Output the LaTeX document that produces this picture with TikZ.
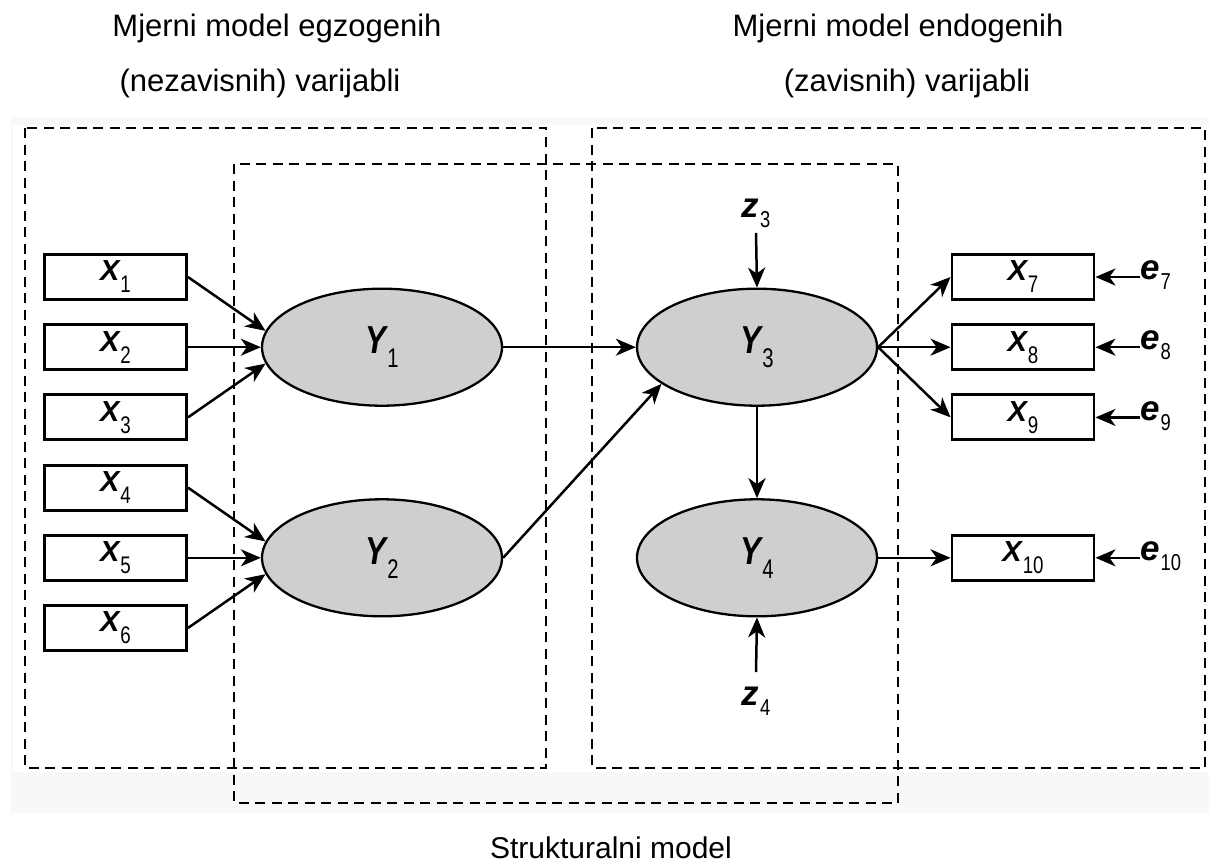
\documentclass[tikz,border=0pt]{standalone}
\usepackage{fontspec}
\setmainfont{Liberation Sans}
\usepackage{graphicx}
\usetikzlibrary{arrows.meta,calc,shapes.geometric}
\definecolor{bggray}{RGB}{248,248,248}
\definecolor{latfill}{RGB}{207,207,209}
\newcommand\labX[1]{{\fontsize{29}{30}\selectfont\bfseries\itshape X}\kern1pt\raisebox{-12pt}{\fontsize{24}{26}\selectfont\mdseries\upshape\scalebox{0.78}[1]{#1}}}
\newcommand\labY[1]{\scalebox{0.8}[1]{\fontsize{39}{40}\selectfont\bfseries\itshape Y}\kern1pt\raisebox{-14pt}{\fontsize{27}{28}\selectfont\mdseries\upshape\scalebox{0.75}[1]{#1}}}
\newcommand\labE[2]{#1\kern1pt\raisebox{-10pt}{\fontsize{23}{24}\selectfont\mdseries\upshape\scalebox{0.8}[1]{#2}}}
\begin{document}
\begin{tikzpicture}[x=1pt,y=-1pt,
  box/.style={draw, line width=2.9pt, minimum width=142pt, minimum height=45pt, inner sep=0pt},
  lat/.style={ellipse, draw, line width=2.3pt, fill=latfill, minimum width=240pt, minimum height=117pt, inner sep=0pt},
  arr/.style={line width=2.5pt, -{Stealth[length=20pt,width=17pt,inset=6pt]}},
  dbox/.style={line width=2.6pt, dash pattern=on 10pt off 6.5pt},
  errn/.style={font=\fontsize{35}{36}\selectfont\bfseries\itshape, inner xsep=0pt, inner ysep=0pt, anchor=mid west},
  zn/.style={font=\fontsize{35}{36}\selectfont\bfseries\itshape, inner xsep=0pt},
  ttl/.style={font=\fontsize{31}{34}\selectfont, anchor=base, inner sep=0pt}
]
\useasboundingbox (0,0) rectangle (1209,864);
\fill[bggray] (11,117) rectangle (1209,813);
\fill[white] (13,125) rectangle (1209,772);

% titles
\node[ttl] (t1) at (277,37) {Mjerni model egzogenih};
\node[ttl] (t2) at (260,92) {(nezavisnih) varijabli};
\node[ttl] (t3) at (898,37) {Mjerni model endogenih};
\node[ttl] (t4) at (907,92) {(zavisnih) varijabli};
\node[ttl, font=\fontsize{30}{33}\selectfont] (t5) at (611,858) {Strukturalni model};

% dashed boxes
\draw[dbox] (25,128) rectangle (546,768);
\draw[dbox] (592,128) rectangle (1205,768);
\draw[dbox] (234,164) rectangle (898,803);

% observed variables
\foreach \i/\yy in {1/277,2/347.2,3/417.4,4/487.6,5/557.8,6/628}
  \node[box] (X\i) at (115.5,\yy) {\labX{\i}};
\foreach \i/\yy in {7/277,8/347.2,9/417.4,10/557.8}
  \node[box] (X\i) at (1023,\yy) {\labX{\i}};

% latent variables
\node[lat] (Y1) at (382,347.2) {\labY{1}};
\node[lat] (Y2) at (382,557.8) {\labY{2}};
\node[lat] (Y3) at (757,347.2) {\labY{3}};
\node[lat] (Y4) at (757,557.8) {\labY{4}};

% disturbances
\node[zn, anchor=south, inner ysep=5pt] (Z3) at (756,233) {\labE{z}{3}};
\node[zn, anchor=north, inner ysep=15pt] (Z4) at (756,672) {\labE{z}{4}};

% errors
\foreach \i/\yy in {7/277,8/347.2,9/417.4,10/557.8}
  \node[errn] (E\i) at (1140,\yy) {\labE{e}{\i}};

% connectors
\draw[arr] (X1.east) -- (Y1.172);
\draw[arr] (X2.east) -- (Y1.west);
\draw[arr] (X3.east) -- (Y1.188);
\draw[arr] (X4.east) -- (Y2.172);
\draw[arr] (X5.east) -- (Y2.west);
\draw[arr] (X6.east) -- (Y2.188);
\draw[arr] (Y1.east) -- (Y3.west);
\draw[arr] (Y2.east) -- (Y3.201);
\draw[arr] (Y3.east) -- (X7.west);
\draw[arr] (Y3.east) -- (X8.west);
\draw[arr] (Y3.east) -- (X9.west);
\draw[arr] (Y3.south) -- (Y4.north);
\draw[arr] (Y4.east) -- (X10.west);
\draw[arr] (Z3.south) -- (Y3.north);
\draw[arr] (Z4.north) -- (Y4.south);
\foreach \i in {7,8,9,10}
  \draw[arr] (E\i.mid west) -- (X\i.east);
\end{tikzpicture}
\end{document}
